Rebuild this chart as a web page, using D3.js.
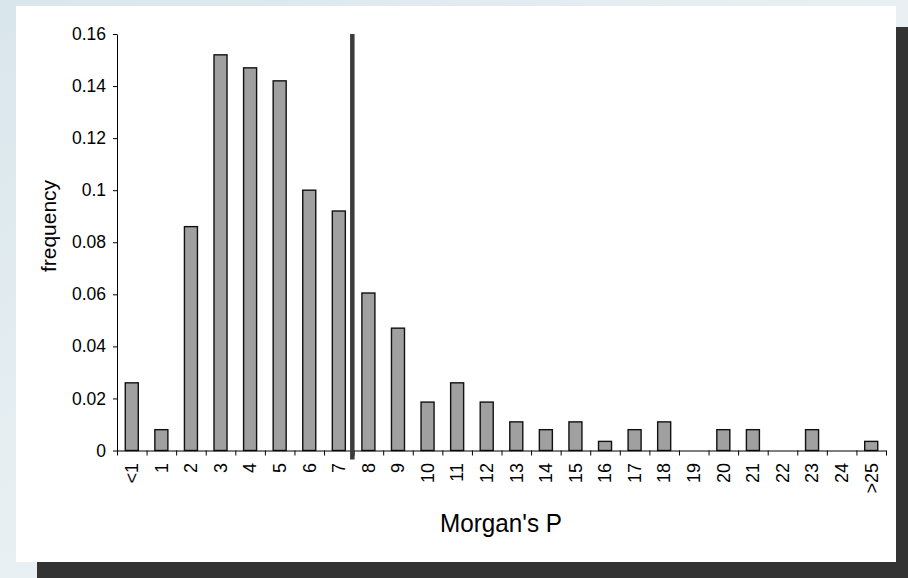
<!DOCTYPE html>
<html>
<head>
<meta charset="utf-8">
<script src="https://cdn.jsdelivr.net/npm/d3@7"></script>
<style>
  body { margin: 0; background: #e6eef2; }
  svg { display: block; font-family: "Liberation Sans", Arial, sans-serif; }
  .y-label { font-size: 17.5px; fill: #000; }
  .x-label { font-size: 18px; fill: #000; }
</style>
</head>
<body>
<svg id="chart" width="908" height="578"></svg>
<script>
// Chart data
const categories = ['<1', '1', '2', '3', '4', '5', '6', '7', '8', '9', '10', '11', '12',
  '13', '14', '15', '16', '17', '18', '19', '20', '21', '22', '23', '24', '>25'];
const frequency = [0.026, 0.008, 0.086, 0.152, 0.147, 0.142, 0.1, 0.092, 0.0605, 0.047,
  0.0186, 0.026, 0.0186, 0.011, 0.008, 0.011, 0.0035, 0.008, 0.011, 0, 0.008, 0.008,
  0, 0.008, 0, 0.0035];
const yTicks = [0, 0.02, 0.04, 0.06, 0.08, 0.1, 0.12, 0.14, 0.16];
const yTickLabels = ['0', '0.02', '0.04', '0.06', '0.08', '0.1', '0.12', '0.14', '0.16'];
const markerAfter = '7'; // vertical line sits between this category and the next

const config = {
  left: 117, right: 886, top: 34, bottom: 450.5,
  barFrac: 0.44
};

const svg = d3.select('#chart');

// Backdrop: pale page, dark drop shadow, white plot card
const defs = svg.append('defs');
const grad = defs.append('linearGradient').attr('id', 'bg')
    .attr('x1', 0).attr('y1', 0).attr('x2', 1).attr('y2', 1);
grad.append('stop').attr('offset', 0).attr('stop-color', '#d9e6ec');
grad.append('stop').attr('offset', 0.5).attr('stop-color', '#e9f0f3');
grad.append('stop').attr('offset', 1).attr('stop-color', '#e3ebf4');
svg.append('rect').attr('width', 908).attr('height', 578).attr('fill', 'url(#bg)');
svg.append('rect').attr('x', 37).attr('y', 27).attr('width', 871).attr('height', 551)
    .attr('fill', '#333333');
svg.append('rect').attr('x', 16).attr('y', 6).attr('width', 880).attr('height', 556)
    .attr('fill', '#ffffff');

// Scales
const x = d3.scaleBand()
    .domain(categories)
    .range([config.left, config.right])
    .padding(0);

const xEdge = d3.scaleLinear()
    .domain([0, categories.length])
    .range([config.left, config.right]);

const y = d3.scaleLinear()
    .domain([0, 0.16])
    .range([config.bottom, config.top]);

const chart = svg.append('g');

// Bars
const barW = x.bandwidth() * config.barFrac;
chart.selectAll('.bar')
    .data(categories.map((c, i) => ({ cat: c, v: frequency[i] })).filter(d => d.v > 0))
    .enter()
    .append('rect')
    .attr('class', 'bar')
    .attr('x', d => x(d.cat) + (x.bandwidth() - barW) / 2)
    .attr('y', d => y(d.v))
    .attr('width', barW)
    .attr('height', d => y(0) - y(d.v))
    .attr('fill', '#a0a0a0')
    .attr('stroke', '#111')
    .attr('stroke-width', 1.4);

// Y axis
const yAxis = chart.append('g')
    .attr('transform', `translate(${config.left},0)`)
    .call(d3.axisLeft(y)
      .tickValues(yTicks)
      .tickFormat((d, i) => yTickLabels[i])
      .tickSize(4)
      .tickPadding(7)
      .tickSizeOuter(0));
yAxis.attr('font-size', null).attr('font-family', null);
yAxis.select('.domain').attr('stroke', '#000');
yAxis.selectAll('.tick line').attr('stroke', '#000');
yAxis.selectAll('.tick text').attr('class', 'y-label');

// X axis: tick marks at category edges
const xTickAxis = chart.append('g')
    .attr('transform', `translate(0,${config.bottom})`)
    .call(d3.axisBottom(xEdge)
      .tickValues(d3.range(categories.length + 1))
      .tickFormat('')
      .tickSize(5)
      .tickSizeOuter(0));
xTickAxis.select('.domain').attr('stroke', '#000');
xTickAxis.selectAll('.tick line').attr('stroke', '#000');

// X axis labels, rotated
const xLabelAxis = chart.append('g')
    .attr('transform', `translate(0,${config.bottom})`)
    .call(d3.axisBottom(x).tickSize(0));
xLabelAxis.attr('font-size', null).attr('font-family', null);
xLabelAxis.select('.domain').remove();
xLabelAxis.selectAll('.tick text')
    .attr('class', 'x-label')
    .attr('transform', 'rotate(-90)')
    .attr('text-anchor', 'end')
    .attr('x', -12.5)
    .attr('y', 0)
    .attr('dy', '0.35em');

// Marker line between 7 and 8
const nextCat = categories[categories.indexOf(markerAfter) + 1];
const markX = x(nextCat) - 1.3;
chart.append('line')
    .attr('x1', markX).attr('x2', markX)
    .attr('y1', y(0.16)).attr('y2', config.bottom + 9)
    .attr('stroke', '#3c3c3c')
    .attr('stroke-width', 4.5);

// Axis titles
svg.append('text')
    .attr('x', 501)
    .attr('y', 532)
    .attr('text-anchor', 'middle')
    .attr('font-size', 25)
    .attr('textLength', 122)
    .attr('lengthAdjust', 'spacingAndGlyphs')
    .attr('fill', '#000')
    .text("Morgan's P");

svg.append('text')
    .attr('transform', 'translate(56,226) rotate(-90)')
    .attr('text-anchor', 'middle')
    .attr('font-size', 21)
    .attr('fill', '#000')
    .text('frequency');
</script>
</body>
</html>
